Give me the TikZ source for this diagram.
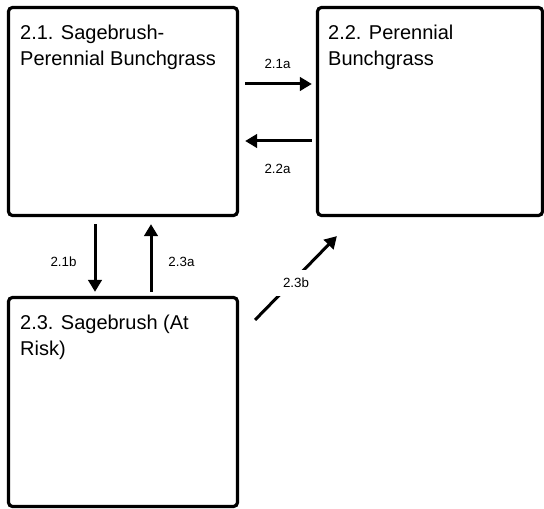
\documentclass[tikz,border=0pt]{standalone}
\usepackage{fontspec}
\setmainfont{Liberation Sans}
\usetikzlibrary{arrows.meta}
\begin{document}
\begin{tikzpicture}[x=0.75pt,y=-0.75pt,
  statebox/.style={draw,line width=2.4pt,rounded corners=3pt,minimum width=171.75pt,minimum height=156pt,inner sep=0pt},
  statetitle/.style={anchor=north west,align=left,inner sep=0pt,font=\fontsize{15}{19.5}\selectfont},
  trans/.style={line width=2.25pt,-{Triangle[length=9pt,width=10pt]}},
  translabel/.style={inner sep=0pt,font=\fontsize{10}{12}\selectfont}]
\useasboundingbox (0,0) rectangle (544,509);
\node[statebox] (s21) at (123,111.5) {};
\node[statebox,minimum width=168.75pt] (s22) at (430,111.5) {};
\node[statebox,minimum height=156.75pt] (s23) at (123,402) {};
\node[statetitle] (t21) at ([shift={(13,19)}]s21.north west) {2.1. Sagebrush-\\Perennial Bunchgrass};
\node[statetitle] (t22) at ([shift={(12,19)}]s22.north west) {2.2. Perennial\\Bunchgrass};
\node[statetitle] (t23) at ([shift={(13,19)}]s23.north west) {2.3. Sagebrush (At\\Risk)};
\draw[trans,shorten <=4.5pt,shorten >=3pt] ([shift={(0,-27.5)}]s21.east) -- node[translabel,above=10.5pt] (l21a) {2.1a} ([shift={(0,-27.5)}]s22.west);
\draw[trans,shorten <=3pt,shorten >=4.5pt] ([shift={(0,29.5)}]s22.west) -- node[translabel,below=16.5pt] (l22a) {2.2a} ([shift={(0,29.5)}]s21.east);
\draw[trans,shorten <=5.25pt,shorten >=3pt] ([shift={(-28,0)}]s21.south) -- node[translabel,left=12.75pt,pos=0.57] (l21b) {2.1b} ([shift={(-28,0)}]s23.north);
\draw[trans,shorten <=3pt,shorten >=5.25pt] ([shift={(28,0)}]s23.north) -- node[translabel,right=12pt,pos=0.43] (l23a) {2.3a} ([shift={(28,0)}]s21.south);
\draw[trans] ([shift={(16,24)}]s23.north east) -- node[translabel,fill=white,inner sep=6pt,yshift=-3.75pt] (l23b) {2.3b} ([shift={(21,19)}]s22.south west);
\end{tikzpicture}
\end{document}
